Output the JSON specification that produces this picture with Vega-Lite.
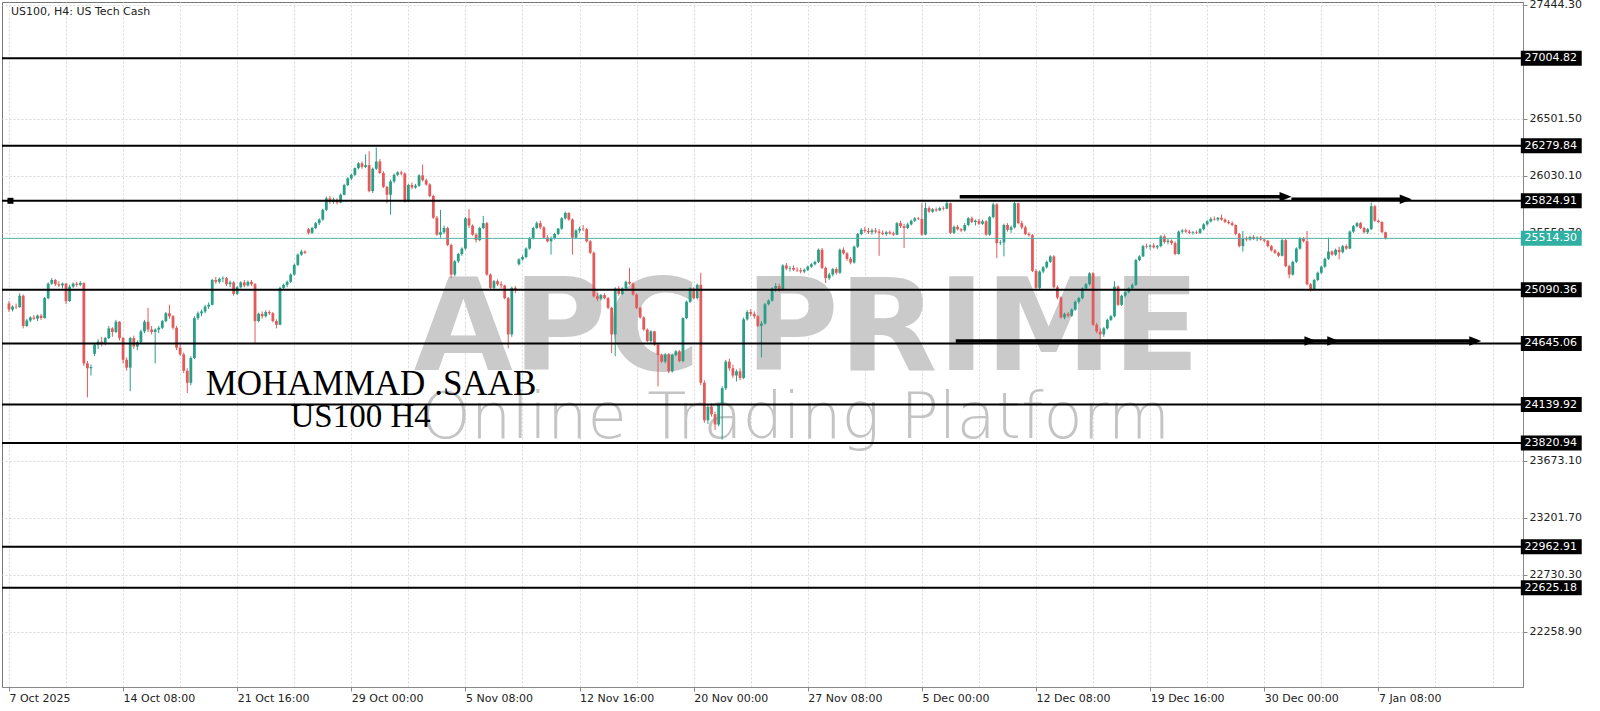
{
"$schema": "https://vega.github.io/schema/vega-lite/v6.json",
"width": 1521, "height": 685,
"autosize": {"type": "none"},
"padding": {"left": 2, "top": 2, "right": 77, "bottom": 24},
"background": "white",
"config": {
 "view": {"stroke": "#777", "strokeWidth": 1},
 "axis": {"labelFont": "DejaVu Sans", "labelFontSize": 11, "labelColor": "#222", "domainColor": "#888", "tickColor": "#888", "gridColor": "#d9d9d9", "gridDash": [2, 2], "gridWidth": 1, "title": null}
},
"resolve": {"axis": {"x": "independent", "y": "independent"}},
"datasets": {
 "candles": [
{"i":0,"o":24975,"h":24995,"l":24905,"c":24925},{"i":1,"o":24925,"h":24960,"l":24910,"c":24950},{"i":2,"o":24950,"h":24975,"l":24930,"c":24945},{"i":3,"o":24945,"h":25060,"l":24940,"c":25040},{"i":4,"o":25040,"h":25050,"l":24770,"c":24790},
{"i":5,"o":24790,"h":24850,"l":24780,"c":24835},{"i":6,"o":24835,"h":24870,"l":24820,"c":24860},{"i":7,"o":24860,"h":24880,"l":24840,"c":24850},{"i":8,"o":24850,"h":24885,"l":24830,"c":24875},{"i":9,"o":24875,"h":24890,"l":24840,"c":24855},
{"i":10,"o":24855,"h":25030,"l":24850,"c":25020},{"i":11,"o":25020,"h":25150,"l":25010,"c":25140},{"i":12,"o":25140,"h":25185,"l":25130,"c":25170},{"i":13,"o":25170,"h":25180,"l":25120,"c":25135},{"i":14,"o":25135,"h":25160,"l":25110,"c":25125},
{"i":15,"o":25125,"h":25150,"l":25100,"c":25140},{"i":16,"o":25140,"h":25145,"l":24970,"c":24995},{"i":17,"o":24995,"h":25130,"l":24990,"c":25115},{"i":18,"o":25115,"h":25150,"l":25105,"c":25140},{"i":19,"o":25140,"h":25155,"l":25115,"c":25130},
{"i":20,"o":25130,"h":25160,"l":25120,"c":25145},{"i":21,"o":25145,"h":25150,"l":24460,"c":24480},{"i":22,"o":24480,"h":24500,"l":24200,"c":24440},{"i":23,"o":24440,"h":24470,"l":24380,"c":24450},{"i":24,"o":24560,"h":24650,"l":24540,"c":24635},
{"i":25,"o":24635,"h":24680,"l":24600,"c":24660},{"i":26,"o":24660,"h":24700,"l":24620,"c":24640},{"i":27,"o":24640,"h":24700,"l":24630,"c":24690},{"i":28,"o":24690,"h":24790,"l":24680,"c":24770},{"i":29,"o":24770,"h":24780,"l":24700,"c":24740},
{"i":30,"o":24740,"h":24840,"l":24730,"c":24825},{"i":31,"o":24825,"h":24830,"l":24670,"c":24690},{"i":32,"o":24690,"h":24700,"l":24480,"c":24510},{"i":33,"o":24510,"h":24530,"l":24420,"c":24445},{"i":34,"o":24445,"h":24700,"l":24250,"c":24690},
{"i":35,"o":24690,"h":24710,"l":24600,"c":24620},{"i":36,"o":24620,"h":24670,"l":24590,"c":24655},{"i":37,"o":24655,"h":24760,"l":24640,"c":24745},{"i":38,"o":24745,"h":24840,"l":24730,"c":24825},{"i":39,"o":24825,"h":24940,"l":24740,"c":24760},
{"i":40,"o":24760,"h":24790,"l":24720,"c":24740},{"i":41,"o":24740,"h":24770,"l":24480,"c":24760},{"i":42,"o":24760,"h":24790,"l":24730,"c":24775},{"i":43,"o":24775,"h":24840,"l":24765,"c":24830},{"i":44,"o":24830,"h":24905,"l":24820,"c":24895},
{"i":45,"o":24895,"h":24965,"l":24850,"c":24870},{"i":46,"o":24870,"h":24880,"l":24760,"c":24775},{"i":47,"o":24775,"h":24790,"l":24590,"c":24610},{"i":48,"o":24610,"h":24640,"l":24540,"c":24555},{"i":49,"o":24555,"h":24570,"l":24400,"c":24420},
{"i":50,"o":24420,"h":24440,"l":24235,"c":24320},{"i":51,"o":24320,"h":24540,"l":24300,"c":24525},{"i":52,"o":24525,"h":24870,"l":24515,"c":24855},{"i":53,"o":24855,"h":24910,"l":24840,"c":24895},{"i":54,"o":24895,"h":24925,"l":24870,"c":24910},
{"i":55,"o":24910,"h":24965,"l":24895,"c":24950},{"i":56,"o":24950,"h":24985,"l":24930,"c":24965},{"i":57,"o":24965,"h":25180,"l":24960,"c":25170},{"i":58,"o":25170,"h":25195,"l":25140,"c":25155},{"i":59,"o":25155,"h":25190,"l":25140,"c":25180},
{"i":60,"o":25180,"h":25200,"l":25150,"c":25185},{"i":61,"o":25185,"h":25195,"l":25120,"c":25135},{"i":62,"o":25135,"h":25165,"l":25110,"c":25150},{"i":63,"o":25150,"h":25160,"l":25040,"c":25055},{"i":64,"o":25055,"h":25120,"l":25045,"c":25110},
{"i":65,"o":25110,"h":25160,"l":25100,"c":25150},{"i":66,"o":25150,"h":25170,"l":25110,"c":25125},{"i":67,"o":25125,"h":25165,"l":25115,"c":25155},{"i":68,"o":25155,"h":25170,"l":25120,"c":25135},{"i":69,"o":25135,"h":25145,"l":24650,"c":24830},
{"i":70,"o":24830,"h":24900,"l":24820,"c":24890},{"i":71,"o":24890,"h":24910,"l":24850,"c":24870},{"i":72,"o":24870,"h":24920,"l":24860,"c":24905},{"i":73,"o":24905,"h":24920,"l":24880,"c":24895},{"i":74,"o":24895,"h":24905,"l":24820,"c":24830},
{"i":75,"o":24830,"h":24845,"l":24770,"c":24800},{"i":76,"o":24800,"h":25115,"l":24795,"c":25105},{"i":77,"o":25105,"h":25140,"l":25090,"c":25130},{"i":78,"o":25130,"h":25165,"l":25110,"c":25155},{"i":79,"o":25155,"h":25225,"l":25145,"c":25215},
{"i":80,"o":25215,"h":25305,"l":25205,"c":25295},{"i":81,"o":25295,"h":25390,"l":25285,"c":25380},{"i":82,"o":25380,"h":25420,"l":25370,"c":25405},{"i":83,"o":25405,"h":25415,"l":25385,"c":25395},{"i":84,"o":25590,"h":25600,"l":25545,"c":25560},
{"i":85,"o":25560,"h":25610,"l":25550,"c":25600},{"i":86,"o":25600,"h":25650,"l":25590,"c":25640},{"i":87,"o":25640,"h":25680,"l":25625,"c":25670},{"i":88,"o":25670,"h":25760,"l":25660,"c":25750},{"i":89,"o":25750,"h":25860,"l":25740,"c":25845},
{"i":90,"o":25845,"h":25865,"l":25800,"c":25815},{"i":91,"o":25815,"h":25850,"l":25800,"c":25835},{"i":92,"o":25835,"h":25845,"l":25795,"c":25810},{"i":93,"o":25810,"h":25885,"l":25805,"c":25875},{"i":94,"o":25875,"h":25965,"l":25870,"c":25955},
{"i":95,"o":25955,"h":26020,"l":25945,"c":26010},{"i":96,"o":26010,"h":26050,"l":25995,"c":26040},{"i":97,"o":26040,"h":26100,"l":26030,"c":26095},{"i":98,"o":26095,"h":26145,"l":26085,"c":26135},{"i":99,"o":26135,"h":26150,"l":26090,"c":26105},
{"i":100,"o":26105,"h":26210,"l":26095,"c":26120},{"i":101,"o":26120,"h":26235,"l":25895,"c":25905},{"i":102,"o":25905,"h":26100,"l":25890,"c":26090},{"i":103,"o":26090,"h":26265,"l":26080,"c":26150},{"i":104,"o":26150,"h":26170,"l":26045,"c":26055},
{"i":105,"o":26055,"h":26070,"l":25930,"c":25940},{"i":106,"o":25940,"h":25950,"l":25805,"c":25875},{"i":107,"o":25875,"h":26000,"l":25710,"c":25985},{"i":108,"o":25985,"h":26050,"l":25970,"c":26040},{"i":109,"o":26040,"h":26070,"l":26030,"c":26060},
{"i":110,"o":26060,"h":26075,"l":26035,"c":26050},{"i":111,"o":26050,"h":26060,"l":25810,"c":25820},{"i":112,"o":25820,"h":25965,"l":25815,"c":25955},{"i":113,"o":25955,"h":25975,"l":25920,"c":25935},{"i":114,"o":25935,"h":25965,"l":25925,"c":25950},
{"i":115,"o":25950,"h":26045,"l":25940,"c":26035},{"i":116,"o":26035,"h":26125,"l":25985,"c":25995},{"i":117,"o":25995,"h":26010,"l":25950,"c":25960},{"i":118,"o":25960,"h":25970,"l":25855,"c":25865},{"i":119,"o":25865,"h":25875,"l":25675,"c":25685},
{"i":120,"o":25685,"h":25700,"l":25535,"c":25545},{"i":121,"o":25545,"h":25750,"l":25520,"c":25565},{"i":122,"o":25565,"h":25620,"l":25550,"c":25600},{"i":123,"o":25600,"h":25610,"l":25450,"c":25460},{"i":124,"o":25460,"h":25470,"l":25185,"c":25215},
{"i":125,"o":25215,"h":25335,"l":25200,"c":25325},{"i":126,"o":25325,"h":25395,"l":25310,"c":25385},{"i":127,"o":25385,"h":25440,"l":25370,"c":25430},{"i":128,"o":25430,"h":25690,"l":25420,"c":25680},{"i":129,"o":25680,"h":25755,"l":25600,"c":25620},
{"i":130,"o":25620,"h":25630,"l":25535,"c":25545},{"i":131,"o":25545,"h":25560,"l":25480,"c":25500},{"i":132,"o":25500,"h":25610,"l":25490,"c":25600},{"i":133,"o":25600,"h":25700,"l":25590,"c":25640},{"i":134,"o":25640,"h":25650,"l":25205,"c":25215},
{"i":135,"o":25215,"h":25225,"l":25095,"c":25105},{"i":136,"o":25105,"h":25170,"l":25095,"c":25160},{"i":137,"o":25160,"h":25175,"l":25120,"c":25135},{"i":138,"o":25135,"h":25160,"l":25100,"c":25125},{"i":139,"o":25125,"h":25130,"l":25010,"c":25020},
{"i":140,"o":25020,"h":25030,"l":24605,"c":24720},{"i":141,"o":24720,"h":25115,"l":24700,"c":25105},{"i":142,"o":25105,"h":25120,"l":25060,"c":25095},{"i":143,"o":25300,"h":25350,"l":25290,"c":25340},{"i":144,"o":25340,"h":25375,"l":25330,"c":25360},
{"i":145,"o":25360,"h":25440,"l":25350,"c":25430},{"i":146,"o":25430,"h":25525,"l":25420,"c":25515},{"i":147,"o":25515,"h":25610,"l":25505,"c":25600},{"i":148,"o":25600,"h":25655,"l":25590,"c":25640},{"i":149,"o":25640,"h":25660,"l":25590,"c":25605},
{"i":150,"o":25605,"h":25615,"l":25510,"c":25520},{"i":151,"o":25520,"h":25540,"l":25480,"c":25490},{"i":152,"o":25490,"h":25530,"l":25380,"c":25515},{"i":153,"o":25515,"h":25560,"l":25505,"c":25550},{"i":154,"o":25550,"h":25600,"l":25540,"c":25595},
{"i":155,"o":25595,"h":25690,"l":25585,"c":25680},{"i":156,"o":25680,"h":25735,"l":25670,"c":25725},{"i":157,"o":25725,"h":25730,"l":25660,"c":25670},{"i":158,"o":25670,"h":25680,"l":25380,"c":25520},{"i":159,"o":25520,"h":25590,"l":25510,"c":25580},
{"i":160,"o":25580,"h":25610,"l":25560,"c":25595},{"i":161,"o":25595,"h":25625,"l":25575,"c":25590},{"i":162,"o":25590,"h":25600,"l":25480,"c":25490},{"i":163,"o":25490,"h":25500,"l":25385,"c":25395},{"i":164,"o":25395,"h":25405,"l":25025,"c":25035},
{"i":165,"o":25035,"h":25060,"l":24995,"c":25015},{"i":166,"o":25015,"h":25055,"l":25000,"c":25045},{"i":167,"o":25045,"h":25060,"l":25010,"c":25020},{"i":168,"o":25020,"h":25030,"l":24930,"c":24940},{"i":169,"o":24940,"h":24950,"l":24565,"c":24720},
{"i":170,"o":24720,"h":25110,"l":24540,"c":25100},{"i":171,"o":25100,"h":25120,"l":25040,"c":25055},{"i":172,"o":25055,"h":25110,"l":25045,"c":25100},{"i":173,"o":25100,"h":25165,"l":25090,"c":25155},{"i":174,"o":25155,"h":25270,"l":25130,"c":25140},
{"i":175,"o":25140,"h":25150,"l":25040,"c":25050},{"i":176,"o":25050,"h":25060,"l":24930,"c":24940},{"i":177,"o":24940,"h":24950,"l":24850,"c":24860},{"i":178,"o":24860,"h":24870,"l":24750,"c":24760},{"i":179,"o":24760,"h":24770,"l":24655,"c":24665},
{"i":180,"o":24665,"h":24755,"l":24650,"c":24745},{"i":181,"o":24745,"h":24750,"l":24625,"c":24635},{"i":182,"o":24635,"h":24645,"l":24290,"c":24550},{"i":183,"o":24550,"h":24560,"l":24485,"c":24495},{"i":184,"o":24495,"h":24565,"l":24480,"c":24555},
{"i":185,"o":24555,"h":24565,"l":24400,"c":24415},{"i":186,"o":24415,"h":24560,"l":24405,"c":24550},{"i":187,"o":24550,"h":24590,"l":24540,"c":24580},{"i":188,"o":24580,"h":24590,"l":24490,"c":24500},{"i":189,"o":24500,"h":24860,"l":24490,"c":24855},
{"i":190,"o":24855,"h":25000,"l":24845,"c":24990},{"i":191,"o":24990,"h":25110,"l":24980,"c":25100},{"i":192,"o":25100,"h":25110,"l":25010,"c":25020},{"i":193,"o":25020,"h":25140,"l":25010,"c":25130},{"i":194,"o":25130,"h":25230,"l":24300,"c":24320},
{"i":195,"o":24320,"h":24340,"l":23990,"c":24010},{"i":196,"o":24010,"h":24140,"l":23980,"c":24120},{"i":197,"o":24120,"h":24150,"l":24040,"c":24060},{"i":198,"o":24060,"h":24080,"l":23930,"c":23975},{"i":199,"o":23975,"h":24150,"l":23960,"c":24140},
{"i":200,"o":24140,"h":24290,"l":23850,"c":24275},{"i":201,"o":24275,"h":24510,"l":24260,"c":24495},{"i":202,"o":24495,"h":24520,"l":24420,"c":24440},{"i":203,"o":24440,"h":24470,"l":24360,"c":24380},{"i":204,"o":24380,"h":24430,"l":24330,"c":24415},
{"i":205,"o":24415,"h":24440,"l":24340,"c":24360},{"i":206,"o":24360,"h":24860,"l":24350,"c":24845},{"i":207,"o":24845,"h":24920,"l":24835,"c":24905},{"i":208,"o":24905,"h":24930,"l":24870,"c":24890},{"i":209,"o":24890,"h":24910,"l":24850,"c":24870},
{"i":210,"o":24870,"h":24880,"l":24780,"c":24790},{"i":211,"o":24790,"h":24830,"l":24530,"c":24810},{"i":212,"o":24810,"h":24980,"l":24800,"c":24970},{"i":213,"o":24970,"h":25010,"l":24960,"c":25000},{"i":214,"o":25000,"h":25110,"l":24990,"c":25100},
{"i":215,"o":25100,"h":25145,"l":25070,"c":25120},{"i":216,"o":25120,"h":25140,"l":25070,"c":25090},{"i":217,"o":25090,"h":25300,"l":25080,"c":25290},{"i":218,"o":25290,"h":25310,"l":25250,"c":25265},{"i":219,"o":25265,"h":25285,"l":25240,"c":25270},
{"i":220,"o":25270,"h":25290,"l":25245,"c":25255},{"i":221,"o":25255,"h":25275,"l":25235,"c":25250},{"i":222,"o":25250,"h":25270,"l":25225,"c":25240},{"i":223,"o":25240,"h":25265,"l":25225,"c":25255},{"i":224,"o":25255,"h":25290,"l":25245,"c":25280},
{"i":225,"o":25280,"h":25310,"l":25270,"c":25300},{"i":226,"o":25300,"h":25330,"l":25290,"c":25320},{"i":227,"o":25320,"h":25430,"l":25310,"c":25420},{"i":228,"o":25420,"h":25435,"l":25260,"c":25270},{"i":229,"o":25270,"h":25280,"l":25145,"c":25185},
{"i":230,"o":25185,"h":25230,"l":25170,"c":25215},{"i":231,"o":25215,"h":25270,"l":25200,"c":25260},{"i":232,"o":25260,"h":25275,"l":25215,"c":25230},{"i":233,"o":25230,"h":25430,"l":25220,"c":25420},{"i":234,"o":25420,"h":25440,"l":25380,"c":25390},
{"i":235,"o":25390,"h":25400,"l":25330,"c":25345},{"i":236,"o":25345,"h":25360,"l":25300,"c":25315},{"i":237,"o":25315,"h":25455,"l":25305,"c":25445},{"i":238,"o":25445,"h":25560,"l":25435,"c":25550},{"i":239,"o":25550,"h":25600,"l":25540,"c":25585},
{"i":240,"o":25585,"h":25610,"l":25560,"c":25575},{"i":241,"o":25575,"h":25600,"l":25550,"c":25565},{"i":242,"o":25565,"h":25595,"l":25545,"c":25580},{"i":243,"o":25580,"h":25600,"l":25555,"c":25570},{"i":244,"o":25570,"h":25590,"l":25370,"c":25560},
{"i":245,"o":25560,"h":25580,"l":25540,"c":25550},{"i":246,"o":25550,"h":25575,"l":25535,"c":25565},{"i":247,"o":25565,"h":25580,"l":25545,"c":25555},{"i":248,"o":25555,"h":25570,"l":25535,"c":25545},{"i":249,"o":25545,"h":25650,"l":25540,"c":25640},
{"i":250,"o":25640,"h":25660,"l":25600,"c":25615},{"i":251,"o":25615,"h":25635,"l":25435,"c":25600},{"i":252,"o":25600,"h":25645,"l":25590,"c":25630},{"i":253,"o":25630,"h":25670,"l":25620,"c":25660},{"i":254,"o":25660,"h":25690,"l":25650,"c":25680},
{"i":255,"o":25680,"h":25690,"l":25665,"c":25675},{"i":256,"o":25675,"h":25805,"l":25535,"c":25545},{"i":257,"o":25545,"h":25810,"l":25540,"c":25765},{"i":258,"o":25765,"h":25780,"l":25725,"c":25735},{"i":259,"o":25735,"h":25765,"l":25725,"c":25755},
{"i":260,"o":25755,"h":25770,"l":25735,"c":25745},{"i":261,"o":25745,"h":25775,"l":25740,"c":25765},{"i":262,"o":25765,"h":25780,"l":25745,"c":25760},{"i":263,"o":25760,"h":25825,"l":25755,"c":25805},{"i":264,"o":25805,"h":25810,"l":25550,"c":25560},
{"i":265,"o":25560,"h":25620,"l":25550,"c":25610},{"i":266,"o":25610,"h":25625,"l":25580,"c":25590},{"i":267,"o":25590,"h":25600,"l":25565,"c":25580},{"i":268,"o":25580,"h":25640,"l":25570,"c":25625},{"i":269,"o":25625,"h":25690,"l":25615,"c":25680},
{"i":270,"o":25680,"h":25695,"l":25640,"c":25650},{"i":271,"o":25650,"h":25670,"l":25620,"c":25660},{"i":272,"o":25660,"h":25675,"l":25625,"c":25635},{"i":273,"o":25635,"h":25670,"l":25625,"c":25655},{"i":274,"o":25655,"h":25665,"l":25535,"c":25545},
{"i":275,"o":25545,"h":25700,"l":25535,"c":25690},{"i":276,"o":25690,"h":25810,"l":25680,"c":25795},{"i":277,"o":25795,"h":25805,"l":25350,"c":25475},{"i":278,"o":25475,"h":25500,"l":25460,"c":25480},{"i":279,"o":25480,"h":25635,"l":25365,"c":25625},
{"i":280,"o":25625,"h":25640,"l":25570,"c":25585},{"i":281,"o":25585,"h":25620,"l":25560,"c":25605},{"i":282,"o":25605,"h":25815,"l":25595,"c":25805},{"i":283,"o":25805,"h":25810,"l":25630,"c":25640},{"i":284,"o":25640,"h":25660,"l":25590,"c":25605},
{"i":285,"o":25605,"h":25620,"l":25540,"c":25550},{"i":286,"o":25550,"h":25565,"l":25530,"c":25540},{"i":287,"o":25540,"h":25550,"l":25235,"c":25245},{"i":288,"o":25245,"h":25260,"l":25090,"c":25105},{"i":289,"o":25105,"h":25250,"l":25095,"c":25240},
{"i":290,"o":25240,"h":25285,"l":25225,"c":25275},{"i":291,"o":25275,"h":25330,"l":25265,"c":25320},{"i":292,"o":25320,"h":25375,"l":25310,"c":25365},{"i":293,"o":25365,"h":25375,"l":25100,"c":25110},{"i":294,"o":25110,"h":25125,"l":25010,"c":25025},
{"i":295,"o":25025,"h":25035,"l":24850,"c":24860},{"i":296,"o":24860,"h":24900,"l":24845,"c":24890},{"i":297,"o":24890,"h":24905,"l":24860,"c":24875},{"i":298,"o":24875,"h":24935,"l":24865,"c":24925},{"i":299,"o":24925,"h":25000,"l":24915,"c":24990},
{"i":300,"o":24990,"h":25030,"l":24975,"c":25020},{"i":301,"o":25020,"h":25110,"l":25010,"c":25100},{"i":302,"o":25100,"h":25145,"l":25090,"c":25135},{"i":303,"o":25135,"h":25235,"l":25125,"c":25225},{"i":304,"o":25225,"h":25235,"l":24790,"c":24800},
{"i":305,"o":24800,"h":24815,"l":24730,"c":24745},{"i":306,"o":24745,"h":24770,"l":24675,"c":24720},{"i":307,"o":24720,"h":24780,"l":24700,"c":24770},{"i":308,"o":24770,"h":24850,"l":24760,"c":24840},{"i":309,"o":24840,"h":24880,"l":24830,"c":24870},
{"i":310,"o":24870,"h":25160,"l":24860,"c":25115},{"i":311,"o":25115,"h":25125,"l":24955,"c":24965},{"i":312,"o":24965,"h":25050,"l":24955,"c":25040},{"i":313,"o":25040,"h":25080,"l":25025,"c":25070},{"i":314,"o":25070,"h":25110,"l":25060,"c":25100},
{"i":315,"o":25100,"h":25140,"l":25085,"c":25130},{"i":316,"o":25130,"h":25345,"l":25120,"c":25335},{"i":317,"o":25335,"h":25375,"l":25325,"c":25365},{"i":318,"o":25365,"h":25460,"l":25360,"c":25450},{"i":319,"o":25450,"h":25470,"l":25430,"c":25445},
{"i":320,"o":25445,"h":25465,"l":25420,"c":25455},{"i":321,"o":25455,"h":25475,"l":25430,"c":25440},{"i":322,"o":25440,"h":25460,"l":25425,"c":25450},{"i":323,"o":25450,"h":25540,"l":25440,"c":25530},{"i":324,"o":25530,"h":25545,"l":25470,"c":25485},
{"i":325,"o":25485,"h":25510,"l":25465,"c":25495},{"i":326,"o":25495,"h":25505,"l":25460,"c":25475},{"i":327,"o":25475,"h":25490,"l":25375,"c":25385},{"i":328,"o":25385,"h":25580,"l":25380,"c":25570},{"i":329,"o":25570,"h":25590,"l":25555,"c":25580},
{"i":330,"o":25580,"h":25595,"l":25560,"c":25570},{"i":331,"o":25570,"h":25585,"l":25550,"c":25560},{"i":332,"o":25560,"h":25575,"l":25545,"c":25565},{"i":333,"o":25565,"h":25580,"l":25550,"c":25560},{"i":334,"o":25560,"h":25600,"l":25550,"c":25590},
{"i":335,"o":25590,"h":25640,"l":25580,"c":25630},{"i":336,"o":25630,"h":25665,"l":25620,"c":25655},{"i":337,"o":25655,"h":25690,"l":25645,"c":25675},{"i":338,"o":25675,"h":25695,"l":25660,"c":25670},{"i":339,"o":25670,"h":25690,"l":25655,"c":25685},
{"i":340,"o":25685,"h":25712,"l":25660,"c":25670},{"i":341,"o":25670,"h":25680,"l":25640,"c":25650},{"i":342,"o":25650,"h":25665,"l":25630,"c":25640},{"i":343,"o":25640,"h":25655,"l":25615,"c":25625},{"i":344,"o":25625,"h":25630,"l":25540,"c":25550},
{"i":345,"o":25550,"h":25560,"l":25440,"c":25450},{"i":346,"o":25450,"h":25575,"l":25405,"c":25515},{"i":347,"o":25515,"h":25530,"l":25490,"c":25505},{"i":348,"o":25505,"h":25535,"l":25495,"c":25525},{"i":349,"o":25525,"h":25540,"l":25500,"c":25510},
{"i":350,"o":25510,"h":25530,"l":25490,"c":25520},{"i":351,"o":25520,"h":25535,"l":25495,"c":25505},{"i":352,"o":25505,"h":25515,"l":25480,"c":25495},{"i":353,"o":25495,"h":25500,"l":25440,"c":25450},{"i":354,"o":25450,"h":25460,"l":25405,"c":25415},
{"i":355,"o":25415,"h":25425,"l":25385,"c":25395},{"i":356,"o":25395,"h":25405,"l":25360,"c":25370},{"i":357,"o":25370,"h":25510,"l":25365,"c":25500},{"i":358,"o":25500,"h":25510,"l":25275,"c":25285},{"i":359,"o":25285,"h":25295,"l":25185,"c":25215},
{"i":360,"o":25215,"h":25330,"l":25205,"c":25320},{"i":361,"o":25320,"h":25440,"l":25310,"c":25430},{"i":362,"o":25430,"h":25525,"l":25420,"c":25515},{"i":363,"o":25515,"h":25525,"l":25480,"c":25490},{"i":364,"o":25490,"h":25575,"l":25125,"c":25135},
{"i":365,"o":25135,"h":25145,"l":25075,"c":25090},{"i":366,"o":25090,"h":25180,"l":25085,"c":25170},{"i":367,"o":25170,"h":25240,"l":25160,"c":25230},{"i":368,"o":25230,"h":25290,"l":25220,"c":25280},{"i":369,"o":25280,"h":25355,"l":25270,"c":25345},
{"i":370,"o":25345,"h":25520,"l":25335,"c":25405},{"i":371,"o":25405,"h":25415,"l":25370,"c":25380},{"i":372,"o":25380,"h":25430,"l":25370,"c":25420},{"i":373,"o":25420,"h":25445,"l":25340,"c":25400},{"i":374,"o":25400,"h":25460,"l":25390,"c":25450},
{"i":375,"o":25450,"h":25465,"l":25420,"c":25430},{"i":376,"o":25430,"h":25580,"l":25425,"c":25570},{"i":377,"o":25570,"h":25625,"l":25560,"c":25615},{"i":378,"o":25615,"h":25650,"l":25605,"c":25640},{"i":379,"o":25640,"h":25650,"l":25590,"c":25600},
{"i":380,"o":25600,"h":25610,"l":25555,"c":25565},{"i":381,"o":25565,"h":25600,"l":25550,"c":25590},{"i":382,"o":25590,"h":25810,"l":25585,"c":25780},{"i":383,"o":25780,"h":25790,"l":25650,"c":25660},{"i":384,"o":25660,"h":25670,"l":25640,"c":25650},
{"i":385,"o":25650,"h":25655,"l":25560,"c":25565},{"i":386,"o":25565,"h":25570,"l":25505,"c":25514.3}
 ],
 "levels": [{"lv":27004.82},{"lv":26279.84},{"lv":25824.91},{"lv":25090.36},{"lv":24645.06},{"lv":24139.92},{"lv":23820.94},{"lv":22962.91},{"lv":22625.18}],
 "arrows": [{"b0":266.6,"b1":357.97,"p":25858.9},{"b0":359.6,"b1":391.67,"p":25837.4},{"b0":265.5,"b1":411.17,"p":24665}],
 "heads": [{"b":357.97,"p":25858.9},{"b":391.67,"p":25837.4},{"b":364.94,"p":24665},{"b":371.34,"p":24665},{"b":411.17,"p":24665}]
},
"layer": [
 {"data": {"values": [{}]},
  "mark": {"type": "text", "text": "APC PRIME", "font": "DejaVu Sans", "fontWeight": "bold", "fontSize": 128, "fill": "#cacaca", "align": "center", "baseline": "alphabetic"},
  "encoding": {"x": {"datum": 223.7, "type": "quantitative", "scale": {"domain": [-0.55, 423.15], "nice": false, "zero": false}, "axis": null},
   "y": {"datum": 24425.7, "type": "quantitative", "scale": {"domain": [21804, 27469.1], "nice": false, "zero": false}, "axis": null}}},
 {"data": {"values": [{}]},
  "mark": {"type": "text", "text": "Online Trading Platform", "font": "DejaVu Sans", "fontWeight": 200, "fontSize": 64, "fill": "#c4c4c4", "align": "center", "baseline": "alphabetic"},
  "encoding": {"x": {"datum": 220.5, "type": "quantitative", "axis": null},
   "y": {"datum": 23863.3, "type": "quantitative", "axis": null}}},
 {"data": {"name": "candles"},
  "mark": {"type": "rule", "strokeWidth": 1},
  "encoding": {
   "x": {"field": "i", "type": "quantitative", "scale": {"domain": [-0.55, 423.15], "nice": false, "zero": false},
    "axis": {"orient": "top", "values": [0,16,32,48,64,80,96,112,128,144,160,176,192,208,224,240,256,272,288,304,320,336,352,368,384,400,416], "labels": false, "ticks": false, "domain": false, "grid": true, "zindex": 0, "title": null}},
   "y": {"field": "l", "type": "quantitative", "scale": {"domain": [21804, 27469.1], "nice": false, "zero": false},
    "axis": {"orient": "right", "values": [27444.3,26501.5,26030.1,25558.7,23673.1,23201.7,22730.3,22258.9], "format": ".2f", "tickSize": 4, "labelPadding": 2, "grid": true, "zindex": 0, "labelAlign": "left", "labelBaseline": "middle", "labelFlush": false, "labelOverlap": false, "title": null}},
   "y2": {"field": "h"},
   "color": {"condition": {"test": "datum.c >= datum.o", "value": "#2b9e86"}, "value": "#e25a5a"}}},
 {"data": {"name": "candles"},
  "mark": {"type": "bar", "width": 2.8},
  "encoding": {
   "x": {"field": "i", "type": "quantitative",
    "axis": {"orient": "bottom", "values": [0,32,64,96,128,160,192,224,256,288,320,352,384], "grid": false, "labelAlign": "left", "tickSize": 4, "labelPadding": 1, "labelFlush": false, "labelOverlap": false, "zindex": 0, "title": null,
     "labelExpr": "datum.value==0?'7 Oct 2025':datum.value==32?'14 Oct 08:00':datum.value==64?'21 Oct 16:00':datum.value==96?'29 Oct 00:00':datum.value==128?'5 Nov 08:00':datum.value==160?'12 Nov 16:00':datum.value==192?'20 Nov 00:00':datum.value==224?'27 Nov 08:00':datum.value==256?'5 Dec 00:00':datum.value==288?'12 Dec 08:00':datum.value==320?'19 Dec 16:00':datum.value==352?'30 Dec 00:00':datum.value==384?'7 Jan 08:00':''"}},
   "y": {"field": "o", "type": "quantitative", "axis": null},
   "y2": {"field": "c"},
   "color": {"condition": {"test": "datum.c >= datum.o", "value": "#2b9e86"}, "value": "#e25a5a"}}},
 {"data": {"values": [{}]},
  "mark": {"type": "rule", "stroke": "#4fb3aa", "strokeWidth": 1},
  "encoding": {"y": {"datum": 25514.3, "type": "quantitative", "axis": null}}},
 {"data": {"name": "levels"},
  "mark": {"type": "rule", "stroke": "#000", "strokeWidth": 2},
  "encoding": {"y": {"field": "lv", "type": "quantitative", "axis": null}}},
 {"data": {"name": "arrows"},
  "mark": {"type": "rule", "stroke": "#000", "strokeWidth": 3.5},
  "encoding": {"x": {"field": "b0", "type": "quantitative", "axis": null}, "x2": {"field": "b1"},
   "y": {"field": "p", "type": "quantitative", "axis": null}}},
 {"data": {"name": "heads"},
  "mark": {"type": "point", "shape": "M1,0L-1,-0.8L-1,0.8Z", "size": 144, "filled": true, "fill": "#000", "opacity": 1, "strokeWidth": 0},
  "encoding": {"x": {"field": "b", "type": "quantitative", "axis": null},
   "y": {"field": "p", "type": "quantitative", "axis": null}}},
 {"data": {"values": [{}]},
  "mark": {"type": "point", "shape": "square", "size": 36, "filled": true, "fill": "#000", "opacity": 1},
  "encoding": {"x": {"datum": 0.42, "type": "quantitative", "axis": null},
   "y": {"datum": 25824.91, "type": "quantitative", "axis": null}}},
 {"data": {"name": "levels"},
  "mark": {"type": "point", "shape": "M-2.03,-0.5H2.03V0.5H-2.03Z", "size": 900, "filled": true, "fill": "#000", "opacity": 1, "strokeWidth": 0},
  "encoding": {"x": {"datum": 432.48, "type": "quantitative", "axis": null},
   "y": {"field": "lv", "type": "quantitative", "axis": null}}},
 {"data": {"name": "levels"},
  "mark": {"type": "text", "font": "DejaVu Sans", "fontSize": 11, "fill": "#fff", "align": "left", "baseline": "middle"},
  "encoding": {"x": {"datum": 424.95, "type": "quantitative", "axis": null},
   "y": {"field": "lv", "type": "quantitative", "axis": null},
   "text": {"field": "lv", "type": "quantitative", "format": ".2f"}}},
 {"data": {"values": [{"lv": 25514.3}]},
  "mark": {"type": "point", "shape": "M-2.03,-0.5H2.03V0.5H-2.03Z", "size": 900, "filled": true, "fill": "#2fb0a3", "opacity": 1, "strokeWidth": 0},
  "encoding": {"x": {"datum": 432.48, "type": "quantitative", "axis": null},
   "y": {"field": "lv", "type": "quantitative", "axis": null}}},
 {"data": {"values": [{"lv": 25514.3}]},
  "mark": {"type": "text", "font": "DejaVu Sans", "fontSize": 11, "fill": "#fff", "align": "left", "baseline": "middle"},
  "encoding": {"x": {"datum": 424.95, "type": "quantitative", "axis": null},
   "y": {"field": "lv", "type": "quantitative", "axis": null},
   "text": {"field": "lv", "type": "quantitative", "format": ".2f"}}},
 {"data": {"values": [{}]},
  "mark": {"type": "text", "text": "US100, H4:  US Tech Cash", "font": "DejaVu Sans", "fontSize": 11, "fill": "#222", "align": "left", "baseline": "alphabetic"},
  "encoding": {"x": {"datum": 0.56, "type": "quantitative", "axis": null},
   "y": {"datum": 27361.6, "type": "quantitative", "axis": null}}},
 {"data": {"values": [{}]},
  "mark": {"type": "text", "text": "MOHAMMAD .SAAB", "font": "Liberation Serif", "fontSize": 35, "fill": "#000", "align": "center", "baseline": "alphabetic"},
  "encoding": {"x": {"datum": 101.5, "type": "quantitative", "axis": null},
   "y": {"datum": 24218.9, "type": "quantitative", "axis": null}}},
 {"data": {"values": [{}]},
  "mark": {"type": "text", "text": "US100 H4", "font": "Liberation Serif", "fontSize": 33, "fill": "#000", "align": "center", "baseline": "alphabetic"},
  "encoding": {"x": {"datum": 98.6, "type": "quantitative", "axis": null},
   "y": {"datum": 23954.3, "type": "quantitative", "axis": null}}}
]
}
